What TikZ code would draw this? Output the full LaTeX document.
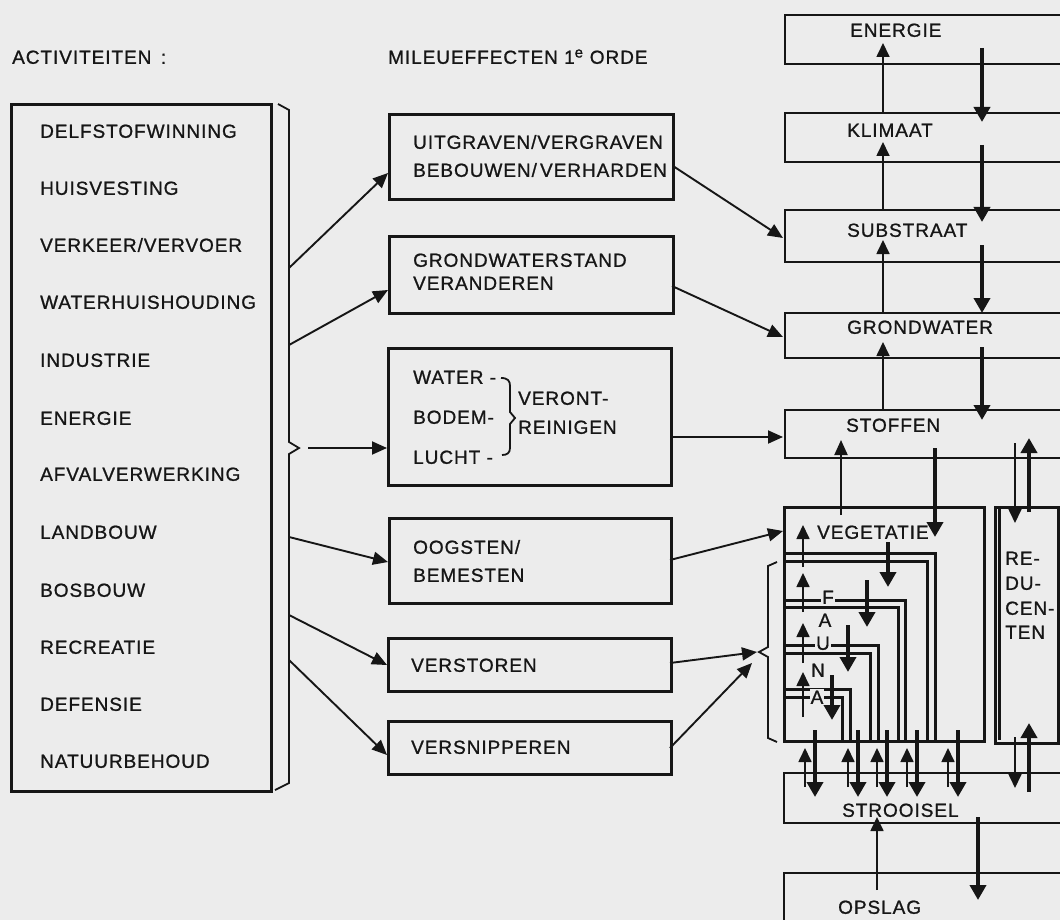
\documentclass[tikz,border=0pt]{standalone}
\usepackage{fontspec}
\setmainfont{Liberation Sans}[LetterSpace=5, FakeBold=1]
\usetikzlibrary{arrows.meta}
\definecolor{bgc}{RGB}{236,236,236}
\definecolor{ink}{RGB}{22,22,22}
\begin{document}
\begin{tikzpicture}[x=1pt,y=-1pt,
  every node/.style={inner sep=0pt, text=ink},
  txt/.style={font=\fontsize{19}{22}\selectfont, text height=13.6pt, text depth=0pt, anchor=west},
  letter/.style={font=\fontsize{19}{22}\selectfont, text height=13.6pt, text depth=0pt, fill=bgc, inner sep=1pt},
  box/.style={draw=ink, line width=2.8pt},
  lin/.style={draw=ink, line width=3pt},
  arr/.style={draw=ink, line width=1.9pt, -{Triangle[length=15pt,width=13pt]}},
  thinarr/.style={draw=ink, line width=1.7pt, -{Triangle[length=14pt,width=13pt]}},
  fatarr/.style={draw=ink, line width=4.8pt, -{Triangle[length=15pt,width=16pt]}},
  brace/.style={draw=ink, line width=1.8pt}
]
\fill[bgc] (0,0) rectangle (1060,920);
\useasboundingbox (0,0) rectangle (1060,920);

% ---------- titles
\node[txt] (tAct) at (12,57) {ACTIVITEITEN\,\,\,:};
\node[txt] (tMil) at (388,57) {MILEUEFFECTEN 1\textsuperscript{\fontsize{15}{15}\selectfont e} ORDE};

% ---------- activities
\node[box, anchor=north west, minimum width=260pt, minimum height=687pt] (act) at (10,103) {};
\node[txt] (a1) at (40,131) {DELFSTOFWINNING};
\node[txt] (a2) at (40,188) {HUISVESTING};
\node[txt] (a3) at (40,245) {VERKEER/VERVOER};
\node[txt] (a4) at (40,302) {WATERHUISHOUDING};
\node[txt] (a5) at (40,360) {INDUSTRIE};
\node[txt] (a6) at (40,418) {ENERGIE};
\node[txt] (a7) at (40,474) {AFVALVERWERKING};
\node[txt] (a8) at (40,532) {LANDBOUW};
\node[txt] (a9) at (40,590) {BOSBOUW};
\node[txt] (a10) at (40,647) {RECREATIE};
\node[txt] (a11) at (40,704) {DEFENSIE};
\node[txt] (a12) at (40,761) {NATUURBEHOUD};

% bracket
\draw[brace] (278,104) -- (289,110) -- (289,442) -- (299,448) -- (289,454) -- (289,783) -- (275,790);
\coordinate (s1) at (289,268);
\coordinate (s2) at (289,345);
\coordinate (s3) at (308,448);
\coordinate (s4) at (289,537);
\coordinate (s5) at (289,615);
\coordinate (s6) at (289,660);

% ---------- first order effects
\node[box, anchor=north west, minimum width=284pt, minimum height=85pt] (b1) at (388,113) {};
\node[box, anchor=north west, minimum width=284pt, minimum height=77pt] (b2) at (388,235) {};
\node[box, anchor=north west, minimum width=283pt, minimum height=137pt] (b3) at (387,347) {};
\node[box, anchor=north west, minimum width=282pt, minimum height=85pt] (b4) at (388,517) {};
\node[box, anchor=north west, minimum width=283pt, minimum height=53pt] (b5) at (387,637) {};
\node[box, anchor=north west, minimum width=283pt, minimum height=53pt] (b6) at (387,720) {};

\node[txt] (m1a) at (413,142) {UITGRAVEN/VERGRAVEN};
\node[txt] (m1b) at (413,170) {BEBOUWEN/\,VERHARDEN};
\node[txt] (m2a) at (413,260) {GRONDWATERSTAND};
\node[txt] (m2b) at (413,283) {VERANDEREN};
\node[txt] (m3a) at (413,377) {WATER -};
\node[txt] (m3b) at (413,417) {BODEM-};
\node[txt] (m3c) at (413,457) {LUCHT -};
\node[txt] (m3d) at (518,398) {VERONT-};
\node[txt] (m3e) at (518,427) {REINIGEN};
\draw[brace] (501,378) .. controls (508,378) and (510,381) .. (510,386) -- (510,412) -- (515,418) -- (510,424) -- (510,448) .. controls (510,453) and (507,455) .. (502,455);
\node[txt] (m4a) at (413,547) {OOGSTEN/};
\node[txt] (m4b) at (413,575) {BEMESTEN};
\node[txt] (m5) at (411,665) {VERSTOREN};
\node[txt] (m6) at (411,747) {VERSNIPPEREN};

\coordinate (e1) at (388,173);
\coordinate (e2) at (388,290);
\coordinate (e3) at (387,448);
\coordinate (e4) at (388,562);
\coordinate (e5) at (387,665);
\coordinate (e6) at (387,755);
\draw[arr] (s1) -- (e1);
\draw[arr] (s2) -- (e2);
\draw[arr] (s3) -- (e3);
\draw[arr] (s4) -- (e4);
\draw[arr] (s5) -- (e5);
\draw[arr] (s6) -- (e6);

% ---------- right column boxes
\draw[box] (1065,15) -| (785,64) -- (1065,64);
\draw[box] (1065,113) -| (785,162) -- (1065,162);
\draw[box] (1065,210) -| (785,262) -- (1065,262);
\draw[box] (1065,313) -| (785,358) -- (1065,358);
\draw[box] (1065,410) -| (785,458) -- (1065,458);
\draw[box] (1065,773) -| (784,823) -- (1065,823);
\draw[box] (1065,873) -| (784,930);
\node[box, anchor=north west, minimum width=200pt, minimum height=234pt] (veg) at (783,506) {};
\node[box, anchor=north west, minimum width=63pt, minimum height=236pt] (red) at (994,506) {};
\draw[lin] (999,508) -- (999,740);

\node[txt] (tEn) at (850,30) {ENERGIE};
\node[txt] (tKl) at (847,130) {KLIMAAT};
\node[txt] (tSu) at (847,230) {SUBSTRAAT};
\node[txt] (tGr) at (847,327) {GRONDWATER};
\node[txt] (tSt) at (846,425) {STOFFEN};
\node[txt] (tVe) at (817,532) {VEGETATIE};
\node[txt] (tSr) at (842,810) {STROOISEL};
\node[txt] (tOp) at (838,907) {OPSLAG};
\node[txt] (r1) at (1005,558) {RE-};
\node[txt] (r2) at (1005,583) {DU-};
\node[txt] (r3) at (1005,608) {CEN-};
\node[txt] (r4) at (1005,632) {TEN};

% effects -> right column
\coordinate (f1a) at (673,166); \coordinate (f1b) at (783,238);
\coordinate (f2a) at (672,286); \coordinate (f2b) at (783,337);
\coordinate (f3a) at (670,437); \coordinate (f3b) at (783,437);
\coordinate (f4a) at (670,560); \coordinate (f4b) at (783,531);
\coordinate (f5a) at (670,663); \coordinate (f5b) at (757,652);
\coordinate (f6a) at (670,748); \coordinate (f6b) at (752,663);
\draw[arr] (f1a) -- (f1b);
\draw[arr] (f2a) -- (f2b);
\draw[arr] (f3a) -- (f3b);
\draw[arr] (f4a) -- (f4b);
\draw[arr] (f5a) -- (f5b);
\draw[arr] (f6a) -- (f6b);

% fauna brace
\draw[brace] (777,562) -- (768,566) -- (768,647) -- (759,652) -- (768,657) -- (768,738) -- (777,742);

% ---------- nested fauna levels
\draw[lin] (783,553) -| (935,740);
\draw[lin] (783,561) -| (927,740);
\draw[lin] (783,600) -| (905,740);
\draw[lin] (783,607) -| (898,740);
\draw[lin] (783,645) -| (878,740);
\draw[lin] (783,653) -| (870,740);
\draw[lin] (783,689) -| (850,740);
\draw[lin] (783,697) -| (842,740);
\node[letter] (fF) at (828,597) {F};
\node[letter] (fA1) at (825,620) {A};
\node[letter] (fU) at (823,643) {U};
\node[letter] (fN) at (818,670) {N};
\node[letter] (fA2) at (817,697) {A};

% ---------- vertical arrows right column
\foreach \n/\a/\b in {1/113/43, 2/210/142, 3/313/240, 4/410/342}{
  \coordinate (ua\n) at (883,\a); \coordinate (ub\n) at (883,\b);
  \draw[thinarr] (ua\n) -- (ub\n);
}
\foreach \n/\a/\b in {1/48/122, 2/145/222, 3/245/313, 4/347/420}{
  \coordinate (da\n) at (982,\a); \coordinate (db\n) at (982,\b);
  \draw[fatarr] (da\n) -- (db\n);
}
% stoffen <-> vegetatie / reducenten
\coordinate (sv1a) at (841,515); \coordinate (sv1b) at (841,440);
\coordinate (sv2a) at (935,448); \coordinate (sv2b) at (935,537);
\coordinate (sr1a) at (1015,443); \coordinate (sr1b) at (1015,523);
\coordinate (sr2a) at (1029,512); \coordinate (sr2b) at (1029,438);
\draw[arr] (sv1a) -- (sv1b);
\draw[fatarr] (sv2a) -- (sv2b);
\draw[thinarr] (sr1a) -- (sr1b);
\draw[fatarr] (sr2a) -- (sr2b);

% within vegetatie / fauna
\foreach \n/\a/\b in {1/567/525, 2/612/573, 3/663/623, 4/717/672}{
  \coordinate (fu\n) at (803,\a); \coordinate (fv\n) at (803,\b);
  \draw[thinarr] (fu\n) -- (fv\n);
}
\foreach \n/\x/\a/\b in {1/888/542/587, 2/867/580/627, 3/848/625/672, 4/832/675/720}{
  \coordinate (fd\n) at (\x,\a); \coordinate (fe\n) at (\x,\b);
  \draw[fatarr] (fd\n) -- (fe\n);
}

% fauna/vegetatie <-> strooisel
\foreach \n/\x in {1/805, 2/848, 3/877, 4/907, 5/948}{
  \coordinate (pu\n) at (\x,787); \coordinate (pv\n) at (\x,748);
  \draw[thinarr] (pu\n) -- (pv\n);
}
\foreach \n/\x in {1/815, 2/858, 3/887, 4/917, 5/958}{
  \coordinate (pd\n) at (\x,730); \coordinate (pe\n) at (\x,797);
  \draw[fatarr] (pd\n) -- (pe\n);
}
\coordinate (rs1a) at (1015,737); \coordinate (rs1b) at (1015,788);
\coordinate (rs2a) at (1029,792); \coordinate (rs2b) at (1029,723);
\draw[thinarr] (rs1a) -- (rs1b);
\draw[fatarr] (rs2a) -- (rs2b);

% strooisel <-> opslag
\coordinate (so1a) at (877,890); \coordinate (so1b) at (877,817);
\coordinate (so2a) at (978,817); \coordinate (so2b) at (978,900);
\draw[thinarr] (so1a) -- (so1b);
\draw[fatarr] (so2a) -- (so2b);
\end{tikzpicture}
\end{document}
